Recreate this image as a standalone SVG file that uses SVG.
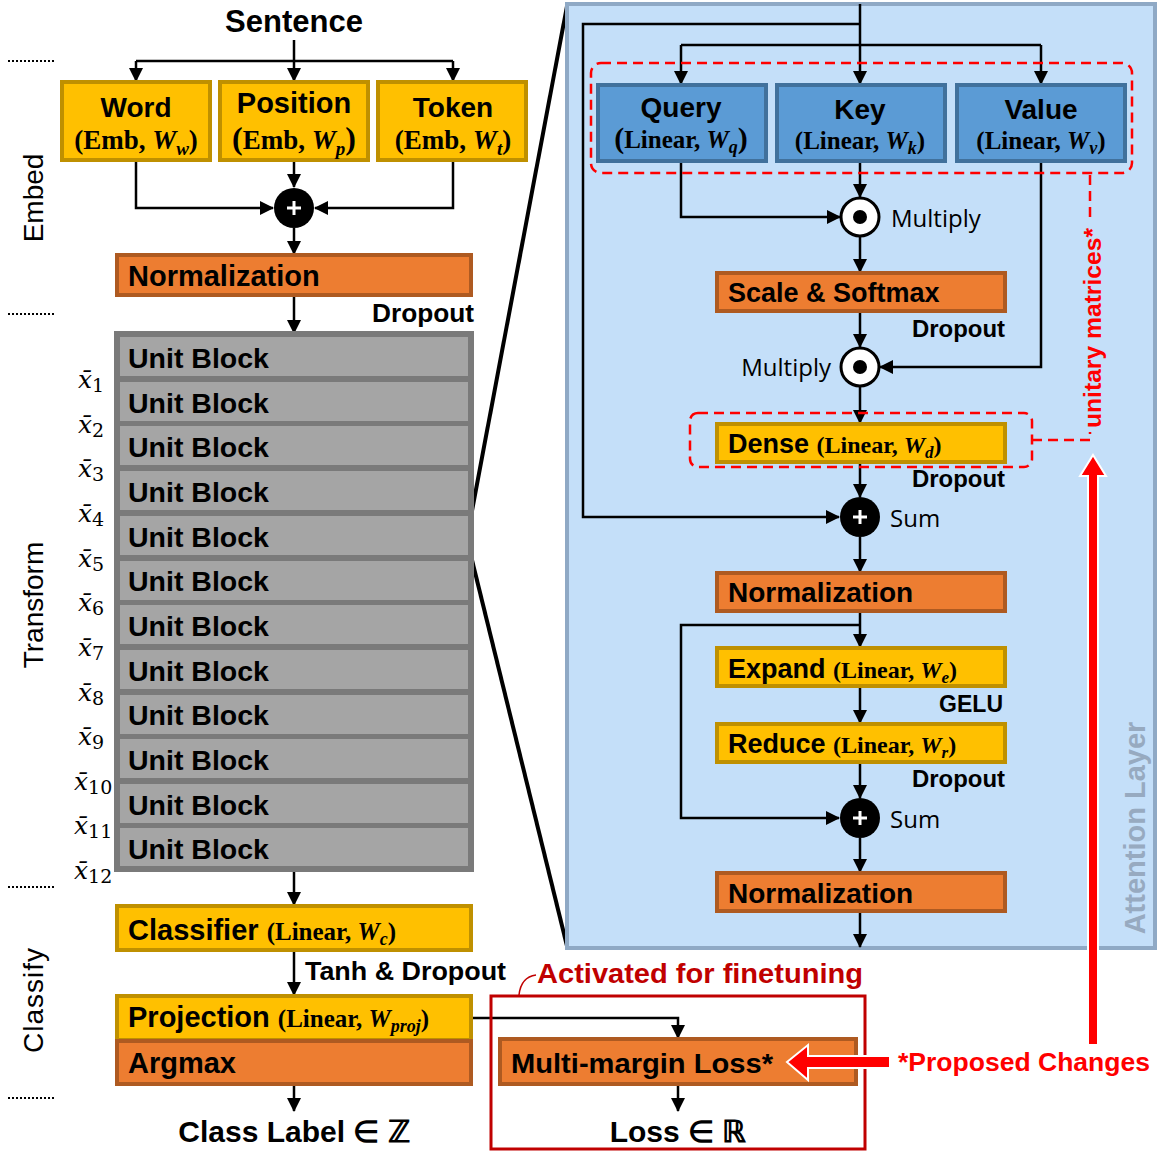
<svg xmlns="http://www.w3.org/2000/svg" width="1159" height="1151" viewBox="0 0 1159 1151">
<defs>
<marker id="ah" viewBox="0 0 14 14" refX="13" refY="7" markerWidth="14" markerHeight="14" orient="auto" markerUnits="userSpaceOnUse"><path d="M0,0 L14,7 L0,14 z" fill="#000"/></marker>
<style>
.b{font-family:"Liberation Sans",Arial,sans-serif;font-weight:bold;fill:#000}
.m{font-family:"Liberation Serif","DejaVu Serif",serif;font-weight:bold;fill:#000}
.r{font-family:"Open Sans","Liberation Sans",sans-serif;fill:#000}
.side{font-family:"Liberation Sans",Arial,sans-serif;font-size:28px;fill:#000}
.yel{fill:#FFC000;stroke:#BF9000;stroke-width:4}
.org{fill:#ED7D31;stroke:#AE5A21;stroke-width:4}
.blu{fill:#5B9BD5;stroke:#41719C;stroke-width:4}
.gry{fill:#A5A5A5;stroke:#7A7A7A;stroke-width:4}
.c{fill:none;stroke:#000;stroke-width:2.5}
.a{fill:none;stroke:#000;stroke-width:2.5;marker-end:url(#ah)}
.dot{fill:none;stroke:#000;stroke-width:2;stroke-dasharray:2,2}
.rd{fill:none;stroke:#FF0000;stroke-width:2.5;stroke-dasharray:10,6}
.xl{font-family:"DejaVu Serif","Liberation Serif",serif;font-style:italic;font-size:25px;fill:#000}
</style>
</defs>
<rect width="1159" height="1151" fill="#fff"/>

<!-- section separators -->
<g id="separators">
<line class="dot" x1="8" y1="61" x2="54" y2="61"/>
<line class="dot" x1="8" y1="314" x2="54" y2="314"/>
<line class="dot" x1="8" y1="887" x2="54" y2="887"/>
<line class="dot" x1="8" y1="1098" x2="54" y2="1098"/>
<text class="side" transform="translate(43,198) rotate(-90)" text-anchor="middle">Embed</text>
<text class="side" transform="translate(43,605) rotate(-90)" text-anchor="middle">Transform</text>
<text class="side" transform="translate(43,1000) rotate(-90)" text-anchor="middle" letter-spacing="1">Classify</text>
</g>

<!-- zoom lines -->
<g id="zoom-lines">
<line x1="471" y1="516" x2="567" y2="6" stroke="#000" stroke-width="4"/>
<line x1="471" y1="556" x2="567" y2="946" stroke="#000" stroke-width="4"/>
</g>

<!-- attention panel -->
<g id="attention-panel">
<rect x="567" y="4" width="588" height="944" fill="#C4DFF9" stroke="#8FA9C5" stroke-width="4"/>
<text class="b" transform="translate(1145,828) rotate(-90)" text-anchor="middle" font-size="29" style="fill:#97AAC0">Attention Layer</text>
</g>

<!-- connectors -->
<g id="connectors">
<line class="c" x1="294" y1="40" x2="294" y2="61"/>
<line class="c" x1="136" y1="61" x2="453" y2="61"/>
<line class="a" x1="136" y1="61" x2="136" y2="81"/>
<line class="a" x1="294" y1="61" x2="294" y2="81"/>
<line class="a" x1="453" y1="61" x2="453" y2="81"/>
<polyline class="a" points="136,161 136,208 273,208"/>
<polyline class="a" points="453,161 453,208 315,208"/>
<line class="a" x1="294" y1="161" x2="294" y2="187"/>
<line class="a" x1="294" y1="228" x2="294" y2="254"/>
<line class="a" x1="294" y1="296" x2="294" y2="333"/>
<line class="a" x1="294" y1="870" x2="294" y2="905"/>
<line class="a" x1="294" y1="951" x2="294" y2="995"/>
<line class="a" x1="294" y1="1085" x2="294" y2="1111"/>
<polyline class="a" points="472,1018 678,1018 678,1038"/>
<line class="a" x1="678" y1="1085" x2="678" y2="1111"/>
<line class="c" x1="860" y1="4" x2="860" y2="45"/>
<polyline class="a" points="860,24 583,24 583,517 839,517"/>
<line class="c" x1="681" y1="45" x2="1041" y2="45"/>
<line class="a" x1="681" y1="45" x2="681" y2="84"/>
<line class="a" x1="860" y1="45" x2="860" y2="84"/>
<line class="a" x1="1041" y1="45" x2="1041" y2="84"/>
<polyline class="a" points="681,162 681,217 840,217"/>
<line class="a" x1="860" y1="162" x2="860" y2="197"/>
<line class="a" x1="860" y1="237" x2="860" y2="272"/>
<line class="a" x1="860" y1="312" x2="860" y2="347"/>
<polyline class="a" points="1041,162 1041,367 880,367"/>
<line class="a" x1="860" y1="387" x2="860" y2="423"/>
<line class="a" x1="860" y1="463" x2="860" y2="497"/>
<line class="a" x1="860" y1="537" x2="860" y2="572"/>
<line class="a" x1="860" y1="612" x2="860" y2="647"/>
<polyline class="a" points="860,625 681,625 681,818 839,818"/>
<line class="a" x1="860" y1="687" x2="860" y2="723"/>
<line class="a" x1="860" y1="763" x2="860" y2="798"/>
<line class="a" x1="860" y1="838" x2="860" y2="872"/>
<line class="a" x1="860" y1="912" x2="860" y2="947"/>
</g>

<!-- Embed nodes -->
<text class="b" x="294" y="32" font-size="31" text-anchor="middle">Sentence</text>
<g id="word">
<rect class="yel" x="62" y="82" width="148" height="78"/>
<text class="b" x="136" y="117" font-size="28" text-anchor="middle">Word</text>
<text class="m" x="136" y="149" font-size="27" text-anchor="middle">(Emb, <tspan font-style="italic">W</tspan><tspan font-style="italic" font-size="19" dy="6">w</tspan><tspan dy="-6">)</tspan></text>
</g>
<g id="position">
<rect class="yel" x="220" y="82" width="148" height="78"/>
<text class="b" x="294" y="113" font-size="29" text-anchor="middle">Position</text>
<text class="m" x="294" y="149" font-size="27" text-anchor="middle"><tspan font-size="32">(</tspan>Emb, <tspan font-style="italic">W</tspan><tspan font-style="italic" font-size="19" dy="6">p</tspan><tspan dy="-6" font-size="32">)</tspan></text>
</g>
<g id="token">
<rect class="yel" x="378" y="82" width="148" height="78"/>
<text class="b" x="453" y="117" font-size="28" text-anchor="middle">Token</text>
<text class="m" x="453" y="149" font-size="27" text-anchor="middle">(Emb, <tspan font-style="italic">W</tspan><tspan font-style="italic" font-size="19" dy="6">t</tspan><tspan dy="-6">)</tspan></text>
</g>
<g id="embed-sum">
<circle cx="294" cy="208" r="20" fill="#000"/>
<path d="M287,208 H301 M294,201 V215" stroke="#fff" stroke-width="3"/>
</g>
<g id="embed-norm">
<rect class="org" x="117" y="255" width="354" height="40"/>
<text class="b" x="128" y="286" font-size="29">Normalization</text>
</g>
<text class="b" x="474" y="322" font-size="25" text-anchor="end" textLength="102" lengthAdjust="spacingAndGlyphs">Dropout</text>

<!-- Unit blocks -->
<g id="unit-blocks">
<rect x="116" y="333" width="356" height="537" fill="#A5A5A5" stroke="#7A7A7A" stroke-width="4"/>
<rect class="gry" x="118" y="335" width="352" height="43"/><text class="b" x="128" y="368" font-size="28.5">Unit Block</text>
<rect class="gry" x="118" y="380" width="352" height="43"/><text class="b" x="128" y="413" font-size="28.5">Unit Block</text>
<rect class="gry" x="118" y="424" width="352" height="43"/><text class="b" x="128" y="457" font-size="28.5">Unit Block</text>
<rect class="gry" x="118" y="469" width="352" height="43"/><text class="b" x="128" y="502" font-size="28.5">Unit Block</text>
<rect class="gry" x="118" y="514" width="352" height="43"/><text class="b" x="128" y="547" font-size="28.5">Unit Block</text>
<rect class="gry" x="118" y="559" width="352" height="43"/><text class="b" x="128" y="591" font-size="28.5">Unit Block</text>
<rect class="gry" x="118" y="603" width="352" height="43"/><text class="b" x="128" y="636" font-size="28.5">Unit Block</text>
<rect class="gry" x="118" y="648" width="352" height="43"/><text class="b" x="128" y="681" font-size="28.5">Unit Block</text>
<rect class="gry" x="118" y="693" width="352" height="43"/><text class="b" x="128" y="725" font-size="28.5">Unit Block</text>
<rect class="gry" x="118" y="737" width="352" height="43"/><text class="b" x="128" y="770" font-size="28.5">Unit Block</text>
<rect class="gry" x="118" y="782" width="352" height="43"/><text class="b" x="128" y="815" font-size="28.5">Unit Block</text>
<rect class="gry" x="118" y="826" width="352" height="42"/><text class="b" x="128" y="859" font-size="28.5">Unit Block</text>
</g>
<g id="x-labels">
<text class="xl" x="78" y="388">x̄<tspan font-style="normal" font-size="19" dy="4">1</tspan></text>
<text class="xl" x="78" y="433">x̄<tspan font-style="normal" font-size="19" dy="4">2</tspan></text>
<text class="xl" x="78" y="477">x̄<tspan font-style="normal" font-size="19" dy="4">3</tspan></text>
<text class="xl" x="78" y="522">x̄<tspan font-style="normal" font-size="19" dy="4">4</tspan></text>
<text class="xl" x="78" y="567">x̄<tspan font-style="normal" font-size="19" dy="4">5</tspan></text>
<text class="xl" x="78" y="611">x̄<tspan font-style="normal" font-size="19" dy="4">6</tspan></text>
<text class="xl" x="78" y="656">x̄<tspan font-style="normal" font-size="19" dy="4">7</tspan></text>
<text class="xl" x="78" y="701">x̄<tspan font-style="normal" font-size="19" dy="4">8</tspan></text>
<text class="xl" x="78" y="745">x̄<tspan font-style="normal" font-size="19" dy="4">9</tspan></text>
<text class="xl" x="74" y="790">x̄<tspan font-style="normal" font-size="19" dy="4">10</tspan></text>
<text class="xl" x="74" y="834">x̄<tspan font-style="normal" font-size="19" dy="4">11</tspan></text>
<text class="xl" x="74" y="879">x̄<tspan font-style="normal" font-size="19" dy="4">12</tspan></text>
</g>

<!-- Classify -->
<g id="classifier">
<rect class="yel" x="117" y="906" width="354" height="44"/>
<text class="b" x="128" y="940" font-size="29">Classifier <tspan class="m" font-size="25">(Linear, <tspan font-style="italic">W</tspan><tspan font-style="italic" font-size="18" dy="5">c</tspan><tspan dy="-5">)</tspan></tspan></text>
</g>
<text class="b" x="305" y="980" font-size="25" textLength="201" lengthAdjust="spacingAndGlyphs">Tanh &amp; Dropout</text>
<g id="projection">
<rect class="yel" x="117" y="996" width="354" height="44"/>
<text class="b" x="128" y="1027" font-size="29">Projection <tspan class="m" font-size="25">(Linear, <tspan font-style="italic">W</tspan><tspan font-style="italic" font-size="18" dy="5">proj</tspan><tspan dy="-5">)</tspan></tspan></text>
</g>
<g id="argmax">
<rect class="org" x="117" y="1041" width="354" height="43"/>
<text class="b" x="128" y="1073" font-size="29">Argmax</text>
</g>
<text class="b" x="294" y="1142" font-size="30" text-anchor="middle">Class Label ∈ ℤ</text>

<g id="finetune">
<rect x="491" y="996" width="374" height="153" fill="none" stroke="#C00000" stroke-width="3"/>
<path d="M519,995 Q521,977 536,975" fill="none" stroke="#C00000" stroke-width="1.5"/>
<text class="b" x="537" y="983" font-size="27" textLength="326" lengthAdjust="spacingAndGlyphs" style="fill:#C00000">Activated for finetuning</text>
</g>
<g id="multimargin">
<rect class="org" x="500" y="1039" width="356" height="45"/>
<text class="b" x="511" y="1073" font-size="28" textLength="262" lengthAdjust="spacingAndGlyphs">Multi-margin Loss*</text>
</g>
<text class="b" x="678" y="1142" font-size="30" text-anchor="middle">Loss ∈ ℝ</text>

<!-- Attention nodes -->
<g id="query">
<rect class="blu" x="598" y="85" width="168" height="76"/>
<text class="b" x="681" y="117" font-size="28" text-anchor="middle">Query</text>
<text class="m" x="681" y="148" font-size="25" text-anchor="middle"><tspan font-size="30">(</tspan>Linear, <tspan font-style="italic">W</tspan><tspan font-style="italic" font-size="18" dy="5">q</tspan><tspan dy="-5" font-size="30">)</tspan></text>
</g>
<g id="key">
<rect class="blu" x="777" y="85" width="168" height="76"/>
<text class="b" x="860" y="119" font-size="28" text-anchor="middle">Key</text>
<text class="m" x="860" y="149" font-size="25" text-anchor="middle">(Linear, <tspan font-style="italic">W</tspan><tspan font-style="italic" font-size="18" dy="5">k</tspan><tspan dy="-5">)</tspan></text>
</g>
<g id="value">
<rect class="blu" x="957" y="85" width="168" height="76"/>
<text class="b" x="1041" y="119" font-size="28" text-anchor="middle">Value</text>
<text class="m" x="1041" y="149" font-size="25" text-anchor="middle">(Linear, <tspan font-style="italic">W</tspan><tspan font-style="italic" font-size="18" dy="5">v</tspan><tspan dy="-5">)</tspan></text>
</g>
<g id="unitary">
<rect class="rd" x="591" y="63" width="541" height="110" rx="10"/>
<rect class="rd" x="690" y="413" width="342" height="54" rx="8"/>
<polyline class="rd" points="1032,440 1090,440 1090,432"/>
<line class="rd" x1="1090" y1="175" x2="1090" y2="220"/>
<text class="b" transform="translate(1101,328) rotate(-90)" text-anchor="middle" font-size="24" textLength="200" lengthAdjust="spacingAndGlyphs" style="fill:#FF0000">unitary matrices*</text>
</g>
<g id="multiply1">
<circle cx="860" cy="217" r="19" fill="#fff" stroke="#000" stroke-width="3"/>
<circle cx="860" cy="217" r="7" fill="#000"/>
<text class="r" x="891" y="227" font-size="24">Multiply</text>
</g>
<g id="softmax">
<rect class="org" x="717" y="273" width="288" height="38"/>
<text class="b" x="728" y="302" font-size="27">Scale &amp; Softmax</text>
</g>
<text class="b" x="1005" y="337" font-size="24" text-anchor="end" textLength="93" lengthAdjust="spacingAndGlyphs">Dropout</text>
<g id="multiply2">
<circle cx="860" cy="367" r="19" fill="#fff" stroke="#000" stroke-width="3"/>
<circle cx="860" cy="367" r="7" fill="#000"/>
<text class="r" x="831" y="376" font-size="24" text-anchor="end">Multiply</text>
</g>
<g id="dense">
<rect class="yel" x="717" y="424" width="288" height="38"/>
<text class="b" x="728" y="453" font-size="27">Dense <tspan class="m" font-size="24">(Linear, <tspan font-style="italic">W</tspan><tspan font-style="italic" font-size="17" dy="5">d</tspan><tspan dy="-5">)</tspan></tspan></text>
</g>
<text class="b" x="1005" y="487" font-size="24" text-anchor="end" textLength="93" lengthAdjust="spacingAndGlyphs">Dropout</text>
<g id="sum1">
<circle cx="860" cy="517" r="20" fill="#000"/>
<path d="M853,517 H867 M860,510 V524" stroke="#fff" stroke-width="3"/>
<text class="r" x="890" y="527" font-size="24">Sum</text>
</g>
<g id="norm1">
<rect class="org" x="717" y="573" width="288" height="38"/>
<text class="b" x="728" y="602" font-size="28">Normalization</text>
</g>
<g id="expand">
<rect class="yel" x="717" y="648" width="288" height="38"/>
<text class="b" x="728" y="678" font-size="27">Expand <tspan class="m" font-size="24">(Linear, <tspan font-style="italic">W</tspan><tspan font-style="italic" font-size="17" dy="5">e</tspan><tspan dy="-5">)</tspan></tspan></text>
</g>
<text class="b" x="1003" y="712" font-size="23" text-anchor="end">GELU</text>
<g id="reduce">
<rect class="yel" x="717" y="724" width="288" height="38"/>
<text class="b" x="728" y="753" font-size="27">Reduce <tspan class="m" font-size="24">(Linear, <tspan font-style="italic">W</tspan><tspan font-style="italic" font-size="17" dy="5">r</tspan><tspan dy="-5">)</tspan></tspan></text>
</g>
<text class="b" x="1005" y="787" font-size="24" text-anchor="end" textLength="93" lengthAdjust="spacingAndGlyphs">Dropout</text>
<g id="sum2">
<circle cx="860" cy="818" r="20" fill="#000"/>
<path d="M853,818 H867 M860,811 V825" stroke="#fff" stroke-width="3"/>
<text class="r" x="890" y="828" font-size="24">Sum</text>
</g>
<g id="norm2">
<rect class="org" x="717" y="873" width="288" height="38"/>
<text class="b" x="728" y="903" font-size="28">Normalization</text>
</g>

<!-- proposed changes arrows -->
<g id="proposed">
<polygon points="1088,1045 1088,476 1080,476 1093,455 1106,476 1098,476 1098,1045" fill="#FF0000" stroke="#fff" stroke-width="2"/>
<polygon points="890,1056 808,1056 808,1045 787,1062 808,1080 808,1068 890,1068" fill="#FF0000" stroke="#fff" stroke-width="2"/>
<text class="b" x="898" y="1071" font-size="26" textLength="252" lengthAdjust="spacingAndGlyphs" style="fill:#FF0000">*Proposed Changes</text>
</g>
</svg>
